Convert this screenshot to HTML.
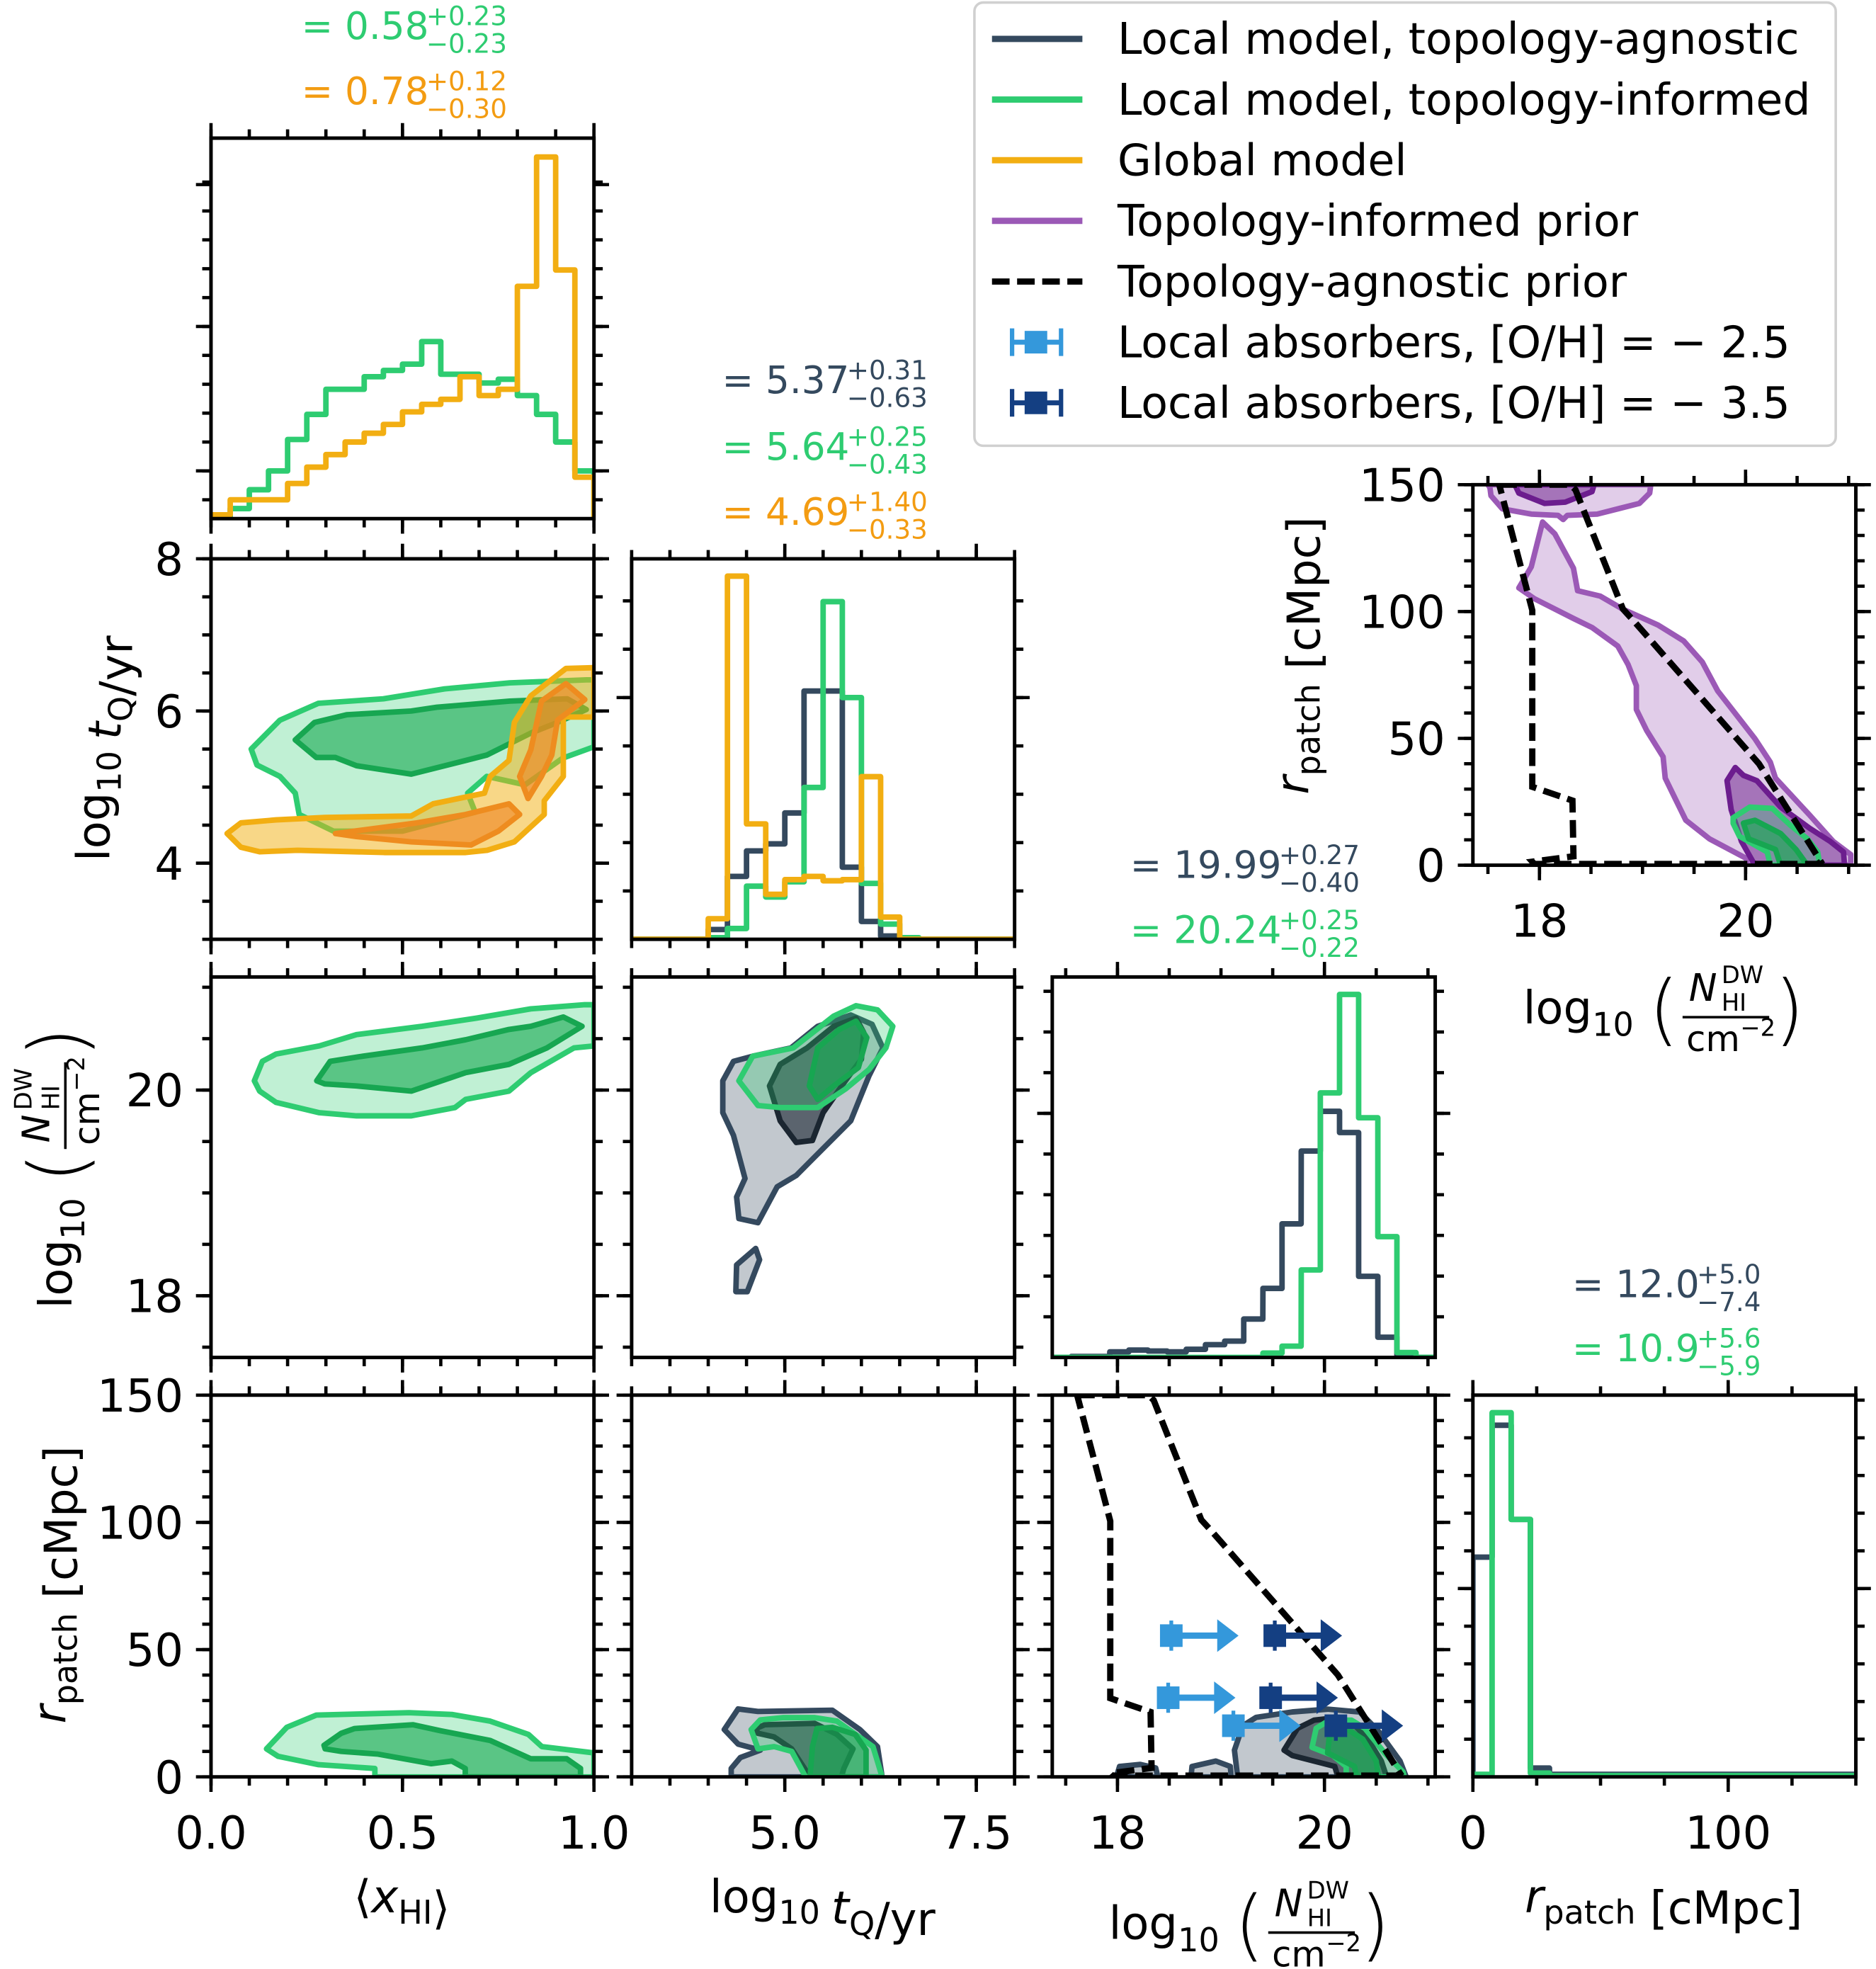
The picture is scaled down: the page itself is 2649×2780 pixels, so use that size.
<!DOCTYPE html>
<html><head><meta charset="utf-8"><style>
html,body{margin:0;padding:0;background:#fff;}
svg{display:block;font-family:"DejaVu Sans","Liberation Sans",sans-serif;}
</style></head><body>
<svg id="fig" width="2649" height="2780" viewBox="0 0 1494 1568" xmlns="http://www.w3.org/2000/svg"></svg>
<script>
// ---------- data ----------
const xhiGreen = [0,8,23,38,63,83,103,103,113,118,123,141,115,115,108,111,98,83,61,38];
const xhiOrange = [3,15,15,15,28,41,51,61,68,75,85,91,95,113,98,103,185,288,198,33];
const tqDark = [0,0,0,0,18,116,163,176,233,458,458,133,33,6,0,0,0,0,0,0];
const tqGreen = [0,0,0,0,3,20,98,78,106,280,623,446,103,28,3,0,0,0,0,0];
const tqOrange = [0,0,0,0,38,670,213,83,110,116,108,110,300,41,0,0,0,0,0,0];
const nDark = [0,4,4,22,29,25,22,32,50,64,150,270,522,807,962,879,317,79,2,0];
const nGreen = [0,0,0,0,0,0,0,0,0,0,0,17,44,342,1034,1419,937,472,19,0];
const rDark = [175,280,205,7,2,2,2,2,2,2,2,2,2,2,2,2,2,2,2,2];
const rGreen = [2,290,205,3,1,1,1,1,1,1,1,1,1,1,1,1,1,1,1,1];

// contours [x,y] in data units
const c10GreenOuter = [[0.105,5.5],[0.18,5.88],[0.28,6.10],[0.45,6.16],[0.61,6.29],[0.78,6.37],[0.98,6.41],[1.0,6.41],[1.0,5.53],[0.918,5.38],[0.82,5.03],[0.72,5.14],[0.67,4.92],[0.69,4.67],[0.5,4.42],[0.32,4.42],[0.23,4.64],[0.22,4.92],[0.18,5.14],[0.12,5.29]];
const c10GreenInner = [[0.22,5.62],[0.27,5.85],[0.354,5.95],[0.523,6.0],[0.59,6.05],[0.78,6.13],[0.93,6.16],[0.98,6.02],[0.905,5.85],[0.835,5.71],[0.72,5.42],[0.665,5.35],[0.523,5.17],[0.38,5.28],[0.325,5.39],[0.275,5.39]];
const c10OrangeOuter = [[0.042,4.39],[0.078,4.53],[0.17,4.57],[0.297,4.60],[0.523,4.62],[0.58,4.78],[0.714,4.92],[0.729,5.14],[0.778,5.35],[0.792,5.85],[0.835,6.20],[0.927,6.56],[1.0,6.57],[1.0,5.92],[0.92,5.92],[0.92,5.14],[0.87,4.82],[0.87,4.64],[0.792,4.28],[0.721,4.17],[0.665,4.14],[0.452,4.14],[0.226,4.17],[0.127,4.15],[0.078,4.21]];
const c10OrangeInnerA = [[0.325,4.39],[0.537,4.53],[0.665,4.64],[0.778,4.78],[0.806,4.64],[0.75,4.42],[0.679,4.24],[0.523,4.28],[0.38,4.35]];
const c10OrangeInnerB = [[0.806,5.14],[0.835,5.49],[0.863,6.13],[0.927,6.36],[0.976,6.15],[0.905,5.88],[0.89,5.42],[0.863,5.14],[0.828,4.85]];
const c20GreenOuter = [[0.113,20.09],[0.134,20.28],[0.17,20.35],[0.283,20.43],[0.38,20.54],[0.551,20.62],[0.693,20.70],[0.835,20.79],[0.976,20.83],[1.0,20.83],[1.0,20.43],[0.948,20.41],[0.835,20.17],[0.778,19.99],[0.665,19.91],[0.637,19.83],[0.523,19.75],[0.38,19.75],[0.283,19.78],[0.17,19.88],[0.127,19.99]];
const c20GreenInner = [[0.276,20.09],[0.311,20.28],[0.396,20.33],[0.551,20.41],[0.665,20.49],[0.778,20.59],[0.835,20.62],[0.92,20.71],[0.969,20.62],[0.877,20.41],[0.778,20.25],[0.665,20.17],[0.523,19.99],[0.38,20.04],[0.297,20.06]];
const c21DarkOuter = [[4.19,20.09],[4.33,20.28],[4.58,20.33],[5.08,20.41],[5.43,20.62],[5.86,20.73],[6.14,20.64],[6.28,20.41],[6.10,20.14],[5.86,19.70],[5.47,19.41],[5.15,19.17],[4.90,19.06],[4.65,18.71],[4.40,18.75],[4.37,18.96],[4.48,19.14],[4.33,19.56],[4.19,19.78]];
const c21DarkIsland = [[4.37,18.30],[4.62,18.46],[4.67,18.35],[4.51,18.04],[4.36,18.04]];
const c21DarkInner = [[4.80,20.04],[4.94,20.25],[5.29,20.41],[5.64,20.62],[5.93,20.70],[6.03,20.56],[6.0,20.30],[5.79,20.09],[5.50,19.78],[5.36,19.51],[5.15,19.49],[4.94,19.70]];
const c21GreenOuter = [[4.40,20.09],[4.58,20.33],[5.11,20.41],[5.64,20.72],[5.93,20.82],[6.21,20.78],[6.41,20.62],[6.32,20.41],[6.10,20.20],[5.79,20.01],[5.43,19.83],[4.94,19.83],[4.65,19.85]];
const c21GreenInner = [[5.32,20.04],[5.43,20.41],[5.71,20.59],[5.93,20.67],[6.07,20.51],[5.96,20.22],[5.64,20.04],[5.43,19.91]];
const c30GreenOuter = [[0.428,0],[0.428,3.3],[0.281,4.8],[0.175,8.1],[0.145,11],[0.198,19.5],[0.275,24.3],[0.517,25.2],[0.629,24.5],[0.729,21.9],[0.829,16.7],[0.864,11.9],[0.994,9.5],[1.0,9],[1.0,0]];
const c30GreenInner = [[0.664,0],[0.664,3.3],[0.629,6.2],[0.575,5.2],[0.434,9.0],[0.34,10],[0.298,11],[0.295,12.4],[0.34,17.1],[0.375,19],[0.528,20.5],[0.6,18.1],[0.729,14.3],[0.835,7.1],[0.929,7.1],[0.965,3.3],[0.965,0]];
const c31DarkOuter = [[4.30,0],[4.30,3.3],[4.42,7.6],[4.68,10.5],[4.39,12.9],[4.21,18.6],[4.39,26.7],[4.65,25.7],[5.62,26.2],[5.98,18.6],[6.21,11.9],[6.27,0]];
const c31DarkInner = [[4.62,19],[4.74,20.5],[5.39,21],[5.68,16.7],[5.89,11],[5.77,3.3],[5.74,0],[5.33,0],[5.09,11],[4.86,15.7],[4.65,17.1]];
const c31GreenOuter = [[4.65,11],[4.56,18.6],[4.68,22.4],[4.98,23.3],[5.39,23.3],[5.68,21.9],[6.15,11.9],[6.27,0],[5.27,0],[5.09,10],[4.86,11.9]];
const c31GreenInner = [[5.33,0],[5.36,11.9],[5.42,19],[5.62,19.5],[5.92,16.7],[6.06,10.5],[6.06,0]];
const c32DarkOuter = [[19.16,0],[19.13,10.5],[19.21,20.1],[19.34,23.4],[19.69,25.5],[20.03,26.6],[20.34,25.5],[20.52,18],[20.73,6.2],[20.79,0]];
const c32DarkBlobA = [[18.71,0],[18.72,4.1],[18.95,6.2],[19.09,4.1],[19.10,0]];
const c32DarkBlobB = [[17.99,0],[18.02,4.1],[18.22,4.9],[18.37,3.5],[18.39,0]];
const c32DarkInner = [[19.61,10.5],[19.74,19.1],[19.9,22.3],[20.1,23.2],[20.3,20],[20.42,14.8],[20.55,6.2],[20.6,0],[20.13,0],[20.1,4.1],[19.69,8.4]];
const c32GreenOuter = [[19.88,11.6],[19.92,19.1],[20.05,22.3],[20.26,22.3],[20.39,19.1],[20.58,9.4],[20.76,1.9],[20.77,0],[20.21,0],[20.21,4.1],[20.08,8.4]];
const c32GreenInner = [[20.03,9.4],[20.05,16.9],[20.21,19.1],[20.37,14.8],[20.5,6.2],[20.52,0],[20.31,0],[20.29,4.1]];
const priorAgnostic = [[17.61,150],[18.3,150],[18.35,148],[18.81,101],[18.9,97],[20.13,40],[20.73,1.4],[20.7,0.5],[17.95,0.5],[17.93,1.4],[18.33,3.5],[18.32,25.5],[17.93,30.9],[17.93,100.5],[17.61,150]];
const insPurpleOuterTop = [[17.50,150],[17.52,148.8],[17.53,145.7],[17.64,140.5],[17.92,138.4],[18.18,137.9],[18.23,136.3],[18.27,137.9],[18.56,138.4],[18.97,142.6],[19.07,146.7],[19.08,150]];
const insPurpleOuter = [[17.80,109.3],[17.92,117.6],[18.03,135.3],[18.15,130.6],[18.33,117.1],[18.37,108.2],[18.59,106.1],[18.81,100.9],[19.15,94.7],[19.40,88.4],[19.58,80.1],[19.73,68.7],[19.83,63.5],[20.09,49.9],[20.24,40.6],[20.29,34.3],[20.62,19.8],[20.85,9.4],[21.02,4.2],[21.02,0],[20.01,0],[20.01,2.6],[19.65,10.4],[19.42,17.7],[19.32,26],[19.22,34.3],[19.20,42.7],[19.04,53.1],[18.94,61.4],[18.94,70.8],[18.86,79.1],[18.76,86.4],[18.51,93.7],[18.33,97.3],[17.95,105.1]];
const insPurpleInnerTop = [[17.77,150],[17.77,149.3],[17.80,146.7],[18.05,142.6],[18.25,143.1],[18.51,147.3],[18.53,150]];
const insPurpleInner = [[19.82,33.3],[19.90,38.5],[19.98,35.4],[20.11,33.3],[20.34,22.9],[20.62,14.6],[20.82,9.4],[20.95,5.2],[20.96,0],[20.09,0],[19.96,9.4],[19.86,21.9]];
const insGreenOuter = [[19.88,18.7],[20.04,22.9],[20.26,22.4],[20.44,15.6],[20.60,10.4],[20.70,5.2],[20.72,0],[20.24,0],[20.21,5.2],[19.94,11.4],[19.88,16.5]];
const insGreenInner = [[19.98,16.6],[20.09,17.7],[20.34,12.5],[20.49,6.2],[20.6,0],[20.34,0],[20.29,6.2],[20.03,10.4]];
const absLightN = [18.52,18.49,19.12];
const absLightR = [55.5,31.1,20.1];
const absDarkN = [19.52,19.48,20.11];
const absDarkR = [55.5,31.1,20.1];
const absArrowLen = 0.65;

// ---------- helpers ----------
const NS = 'http://www.w3.org/2000/svg';
const svg = document.getElementById('fig');
const LW = 4.4;
function mk(tag, attrs, parent) {
  const e = document.createElementNS(NS, tag);
  for (const k in attrs) e.setAttribute(k, attrs[k]);
  (parent || svg).appendChild(e);
  return e;
}
const C = {dark:'#34495e', darkIn:'#1b2631', green:'#2ecc71', greenIn:'#17a651', orange:'#f2ae12', orangeIn:'#ee8c1f', purple:'#9b59b6', purpleIn:'#6c1d8e', light:'#3498db', navy:'#143f82'};
const F = {
  dark:'rgba(52,73,94,0.3)', darkIn:'rgba(28,39,51,0.62)', green:'rgba(46,204,113,0.3)', greenIn:'rgba(22,169,80,0.6)',
  orange:'rgba(241,176,15,0.5)', orangeIn:'rgba(239,130,30,0.6)', purple:'rgba(155,89,182,0.3)', purpleIn:'rgba(106,27,138,0.5)'
};
const P = {
  h00:{x:168,y:110,w:305,h:303,xd:[0,1],yd:[0,303]},
  p10:{x:168,y:445,w:305,h:303,xd:[0,1],yd:[3,8]},
  h11:{x:503,y:445,w:305,h:303,xd:[3,8],yd:[0,702]},
  p20:{x:168,y:778,w:305,h:303,xd:[0,1],yd:[17.4,21.1]},
  p21:{x:503,y:778,w:305,h:303,xd:[3,8],yd:[17.4,21.1]},
  h22:{x:838,y:778,w:305,h:303,xd:[17.37,21.07],yd:[0,1487]},
  p30:{x:168,y:1111,w:305,h:304,xd:[0,1],yd:[0,150]},
  p31:{x:503,y:1111,w:305,h:304,xd:[3,8],yd:[0,150]},
  p32:{x:838,y:1111,w:305,h:304,xd:[17.37,21.07],yd:[0,150]},
  h33:{x:1173,y:1111,w:305,h:304,xd:[0,150],yd:[0,304]},
  ins:{x:1173,y:386,w:305,h:303,xd:[17.354,21.07],yd:[0,150]}
};
function sx(p,v){return p.x + (v-p.xd[0])/(p.xd[1]-p.xd[0])*p.w;}
function sy(p,v){return p.y + p.h - (v-p.yd[0])/(p.yd[1]-p.yd[0])*p.h;}
function range(a,b,s){const r=[];for(let v=a;v<=b+1e-9;v+=s)r.push(+v.toFixed(6));return r;}

const defs = mk('defs',{});
for (const k in P) {
  const p = P[k];
  const cp = mk('clipPath',{id:'clip-'+k},defs);
  mk('rect',{x:p.x,y:p.y,width:p.w,height:p.h},cp);
}

function panelGroup(k, name){
  const g = mk('g',{});
  
  
  const inner = mk('g',{'clip-path':'url(#clip-'+k+')'},g);
  
  
  return [g, inner];
}
function poly(p, g, pts, stroke, fill, name){
  const d = pts.map((q,i)=>(i?'L':'M')+sx(p,q[0]).toFixed(1)+','+sy(p,q[1]).toFixed(1)).join('')+'Z';
  const e = mk('path',{d:d,fill:fill,stroke:stroke,'stroke-width':LW,'stroke-linejoin':'round'},g);
  
  
}
function hist(p, g, vals, color, name){
  const n = vals.length, bw = (p.xd[1]-p.xd[0])/n;
  let d = 'M'+sx(p,p.xd[0])+','+sy(p,0);
  vals.forEach((v,i)=>{const a=p.xd[0]+i*bw, b=a+bw; d+='L'+sx(p,a).toFixed(1)+','+sy(p,v).toFixed(1)+'L'+sx(p,b).toFixed(1)+','+sy(p,v).toFixed(1);});
  d += 'L'+sx(p,p.xd[1])+','+sy(p,0);
  const e = mk('path',{d:d,fill:'none',stroke:color,'stroke-width':LW,'stroke-linejoin':'round'},g);
  
  
}
function frame(p, g, xmaj, xmin, ymaj, ymin, xlab, ylab){
  const r = mk('rect',{x:p.x,y:p.y,width:p.w,height:p.h,fill:'none',stroke:'#000','stroke-width':2.8},g);
  
  
  const tk = mk('g',{stroke:'#000','stroke-width':2.6},g);
  
  
  const L = 12, l = 7;
  [[xmaj,L],[xmin,l]].forEach(([arr,len])=>arr.forEach(v=>{
    const X = sx(p,v); if (X < p.x-0.5 || X > p.x+p.w+0.5) return;
    const t1 = mk('line',{x1:X,x2:X,y1:p.y+p.h,y2:p.y+p.h+len},tk);
    
    const t2 = mk('line',{x1:X,x2:X,y1:p.y,y2:p.y-len},tk);
    
  }));
  [[ymaj,L],[ymin,l]].forEach(([arr,len])=>arr.forEach(v=>{
    const Y = sy(p,v); if (Y < p.y-0.5 || Y > p.y+p.h+0.5) return;
    const t1 = mk('line',{y1:Y,y2:Y,x1:p.x,x2:p.x-len},tk);
    
    const t2 = mk('line',{y1:Y,y2:Y,x1:p.x+p.w,x2:p.x+p.w+len},tk);
    
  }));
  if (xlab) xlab.forEach(([v,s])=>{
    const t = mk('text',{x:sx(p,v),y:p.y+p.h+57,'font-size':36,'text-anchor':'middle'},g);
    t.textContent = s;
    
    
  });
  if (ylab) ylab.forEach(([v,s])=>{
    const t = mk('text',{x:p.x-22,y:sy(p,v)+13,'font-size':36,'text-anchor':'end'},g);
    t.textContent = s;
    
    
  });
}
function dashed(p, g, pts, name){
  const d = pts.map((q,i)=>(i?'L':'M')+sx(p,q[0]).toFixed(1)+','+sy(p,q[1]).toFixed(1)).join('');
  const e = mk('path',{d:d,fill:'none',stroke:'#000','stroke-width':5,'stroke-dasharray':'14 6'},g);
  
  
}
function absorber(p, g, N, R, color, name){
  const x = sx(p,N), y = sy(p,R), x2 = sx(p,N+absArrowLen);
  const grp = mk('g',{fill:color,stroke:color},g);
  
  
  mk('line',{x1:x,x2:x2-14,y1:y,y2:y,'stroke-width':5},grp);
  mk('line',{x1:x,x2:x,y1:y-12,y2:y+12,'stroke-width':3},grp);
  mk('rect',{x:x-9,y:y-9,width:18,height:18,stroke:'none'},grp);
  mk('path',{d:'M'+(x2-17)+','+(y-13)+'L'+x2+','+y+'L'+(x2-17)+','+(y+13)+'Z',stroke:'none'},grp);
}
function txt(x,y,s,size,color,anchor,name,extra){
  const t = mk('text',Object.assign({x:x,y:y,'font-size':size,fill:color||'#000','text-anchor':anchor||'start'},extra||{}));
  t.innerHTML = s;
  
  
  return t;
}
function stat(x,y,val,sup,sub,color,name){
  txt(x,y,'= '+val,30,color,'start',name);
  const w = (val.length)*19.1 + 23;
  txt(x+w,y-11,sup,21,color,'start',name+'-upper');
  txt(x+w,y+11,sub,21,color,'start',name+'-lower');
}

// ---------- build panels ----------
const ticksX = {
  xhi:[[0,0.5,1],range(0,1,0.1)], tq:[[2.5,5,7.5],range(3,8,0.5)], n:[[18,20],range(17.5,21,0.5)], r:[[0,100],range(0,150,25)]
};
const ticksY = {
  tq:[[4,6,8],range(3,8,0.5)], n:[[18,20],range(17.5,21,0.5)], r:[[0,50,100,150],range(0,150,10)]
};
let g, a;
[g,a] = panelGroup('h00','histogram-xhi');
hist(P.h00,a,xhiGreen,C.green,'hist-xhi-topology-informed');
hist(P.h00,a,xhiOrange,C.orange,'hist-xhi-global');
frame(P.h00,g,ticksX.xhi[0],ticksX.xhi[1],[38,153,266],range(15,290,23));
[g,a] = panelGroup('p10','contour-xhi-tq');
poly(P.p10,a,c10GreenOuter,C.green,F.green,'contour-green-95');
poly(P.p10,a,c10GreenInner,C.greenIn,F.greenIn,'contour-green-68');
poly(P.p10,a,c10OrangeOuter,C.orange,F.orange,'contour-orange-95');
poly(P.p10,a,c10OrangeInnerA,C.orangeIn,F.orangeIn,'contour-orange-68-a');
poly(P.p10,a,c10OrangeInnerB,C.orangeIn,F.orangeIn,'contour-orange-68-b');
frame(P.p10,g,ticksX.xhi[0],ticksX.xhi[1],ticksY.tq[0],ticksY.tq[1],null,[[4,'4'],[6,'6'],[8,'8']]);
[g,a] = panelGroup('h11','histogram-tq');
hist(P.h11,a,tqDark,C.dark,'hist-tq-topology-agnostic');
hist(P.h11,a,tqGreen,C.green,'hist-tq-topology-informed');
hist(P.h11,a,tqOrange,C.orange,'hist-tq-global');
frame(P.h11,g,ticksX.tq[0],ticksX.tq[1],[446],range(89.2,700,89.2));
[g,a] = panelGroup('p20','contour-xhi-nhi');
poly(P.p20,a,c20GreenOuter,C.green,F.green,'contour-green-95');
poly(P.p20,a,c20GreenInner,C.greenIn,F.greenIn,'contour-green-68');
frame(P.p20,g,ticksX.xhi[0],ticksX.xhi[1],ticksY.n[0],ticksY.n[1],null,[[18,'18'],[20,'20']]);
[g,a] = panelGroup('p21','contour-tq-nhi');
poly(P.p21,a,c21DarkOuter,C.dark,F.dark,'contour-dark-95');
poly(P.p21,a,c21DarkIsland,C.dark,F.dark,'contour-dark-95-island');
poly(P.p21,a,c21DarkInner,C.darkIn,F.darkIn,'contour-dark-68');
poly(P.p21,a,c21GreenOuter,C.green,F.green,'contour-green-95');
poly(P.p21,a,c21GreenInner,C.greenIn,F.greenIn,'contour-green-68');
frame(P.p21,g,ticksX.tq[0],ticksX.tq[1],ticksY.n[0],ticksY.n[1]);
[g,a] = panelGroup('h22','histogram-nhi');
hist(P.h22,a,nDark,C.dark,'hist-nhi-topology-agnostic');
hist(P.h22,a,nGreen,C.green,'hist-nhi-topology-informed');
frame(P.h22,g,ticksX.n[0],ticksX.n[1],[954],range(159,1480,159));
[g,a] = panelGroup('p30','contour-xhi-rpatch');
poly(P.p30,a,c30GreenOuter,C.green,F.green,'contour-green-95');
poly(P.p30,a,c30GreenInner,C.greenIn,F.greenIn,'contour-green-68');
frame(P.p30,g,ticksX.xhi[0],ticksX.xhi[1],ticksY.r[0],ticksY.r[1],[[0,'0.0'],[0.5,'0.5'],[1,'1.0']],[[0,'0'],[50,'50'],[100,'100'],[150,'150']]);
[g,a] = panelGroup('p31','contour-tq-rpatch');
poly(P.p31,a,c31DarkOuter,C.dark,F.dark,'contour-dark-95');
poly(P.p31,a,c31DarkInner,C.darkIn,F.darkIn,'contour-dark-68');
poly(P.p31,a,c31GreenOuter,C.green,F.green,'contour-green-95');
poly(P.p31,a,c31GreenInner,C.greenIn,F.greenIn,'contour-green-68');
frame(P.p31,g,ticksX.tq[0],ticksX.tq[1],ticksY.r[0],ticksY.r[1],[[5,'5.0'],[7.5,'7.5']]);
[g,a] = panelGroup('p32','contour-nhi-rpatch');
poly(P.p32,a,c32DarkOuter,C.dark,F.dark,'contour-dark-95');
poly(P.p32,a,c32DarkBlobA,C.dark,F.dark,'contour-dark-95-blob-a');
poly(P.p32,a,c32DarkBlobB,C.dark,F.dark,'contour-dark-95-blob-b');
poly(P.p32,a,c32DarkInner,C.darkIn,F.darkIn,'contour-dark-68');
poly(P.p32,a,c32GreenOuter,C.green,F.green,'contour-green-95');
poly(P.p32,a,c32GreenInner,C.greenIn,F.greenIn,'contour-green-68');
dashed(P.p32,a,priorAgnostic,'topology-agnostic-prior');
absLightN.forEach((n,i)=>absorber(P.p32,a,n,absLightR[i],C.light,'absorber-oh-2.5'));
absDarkN.forEach((n,i)=>absorber(P.p32,a,n,absDarkR[i],C.navy,'absorber-oh-3.5'));
frame(P.p32,g,ticksX.n[0],ticksX.n[1],ticksY.r[0],ticksY.r[1],[[18,'18'],[20,'20']]);
[g,a] = panelGroup('h33','histogram-rpatch');
hist(P.h33,a,rDark,C.dark,'hist-rpatch-topology-agnostic');
hist(P.h33,a,rGreen,C.green,'hist-rpatch-topology-informed');
frame(P.h33,g,ticksX.r[0],ticksX.r[1],[150],range(30,300,30),[[0,'0'],[100,'100']]);
[g,a] = panelGroup('ins','prior-inset');
poly(P.ins,a,insPurpleOuterTop,C.purple,F.purple,'prior-purple-95-top');
poly(P.ins,a,insPurpleOuter,C.purple,F.purple,'prior-purple-95');
poly(P.ins,a,insPurpleInnerTop,C.purpleIn,F.purpleIn,'prior-purple-68-top');
poly(P.ins,a,insPurpleInner,C.purpleIn,F.purpleIn,'prior-purple-68');
poly(P.ins,a,insGreenOuter,C.green,F.green,'contour-green-95');
poly(P.ins,a,insGreenInner,C.greenIn,F.greenIn,'contour-green-68');
dashed(P.ins,a,priorAgnostic,'topology-agnostic-prior');
frame(P.ins,g,ticksX.n[0],ticksX.n[1],ticksY.r[0],ticksY.r[1],[[18,'18'],[20,'20']],[[0,'0'],[50,'50'],[100,'100'],[150,'150']]);

// ---------- stats titles ----------
stat(240,31,'0.58','+0.23','−0.23',C.green,'stat-xhi-informed');
stat(240,83,'0.78','+0.12','−0.30','#f39c12','stat-xhi-global');
stat(575,313,'5.37','+0.31','−0.63',C.dark,'stat-tq-agnostic');
stat(575,366,'5.64','+0.25','−0.43',C.green,'stat-tq-informed');
stat(575,418,'4.69','+1.40','−0.33','#f39c12','stat-tq-global');
stat(900,699,'19.99','+0.27','−0.40',C.dark,'stat-nhi-agnostic');
stat(900,751,'20.24','+0.25','−0.22',C.green,'stat-nhi-informed');
stat(1252,1033,'12.0','+5.0','−7.4',C.dark,'stat-rpatch-agnostic');
stat(1252,1084,'10.9','+5.6','−5.9',C.green,'stat-rpatch-informed');

// ---------- axis labels ----------
const sub = (s)=>'<tspan dy="9" font-size="26">'+s+'</tspan><tspan dy="-9"></tspan>';
txt(320,1523,'⟨<tspan font-style="italic">x</tspan>'+sub('HI')+'⟩',36,'#000','middle','x-axis-title-xhi');
txt(655,1523,'log'+sub('10')+'<tspan dx="9" font-style="italic">t</tspan>'+sub('Q')+'/yr',36,'#000','middle','x-axis-title-tq');
txt(1325,1523,'<tspan font-style="italic">r</tspan>'+sub('patch')+' [cMpc]',36,'#000','middle','x-axis-title-rpatch');
txt(0,0,'log'+sub('10')+'<tspan dx="9" font-style="italic">t</tspan>'+sub('Q')+'/yr',36,'#000','middle','y-axis-title-tq',{transform:'translate(87,596) rotate(-90)'});
txt(0,0,'<tspan font-style="italic">r</tspan>'+sub('patch')+' [cMpc]',36,'#000','middle','y-axis-title-rpatch',{transform:'translate(52,1262) rotate(-90)'});
txt(0,0,'<tspan font-style="italic">r</tspan>'+sub('patch')+' [cMpc]',36,'#000','middle','inset-y-axis-title',{transform:'translate(1042,522) rotate(-90)'});
function nlabel(cx,cy,rot,name){
  const gg = mk('g',{transform:'translate('+cx+','+cy+')'+(rot?' rotate(-90)':'')});
  
  
  const parts = [
    [-112,12,'log',36,'',''],[-57,22,'10',26,'',''],[-12,22,'(',62,'','200'],[20,-6,'N',30,'italic',''],[46,2,'HI',19,'',''],[46,-20,'DW',19,'',''],
    [18,34,'cm',28,'',''],[61,22,'−2',19,'',''],[88,22,')',62,'','200']
  ];
  parts.forEach(q=>{
    const t = mk('text',{x:q[0],y:q[1],'font-size':q[3],'font-style':q[4]||'normal','font-weight':q[5]||'normal'},gg);
    t.textContent = q[2];
    
  });
  const bar = mk('line',{x1:15,x2:84,y1:7,y2:7,stroke:'#000','stroke-width':2},gg);
  
}
nlabel(995,1532,false,'x-axis-title-nhi');
nlabel(1325,803,false,'inset-x-axis-title');
nlabel(45,930,true,'y-axis-title-nhi');

// ---------- legend ----------
const lg = mk('g',{});


const lbox = mk('rect',{x:776,y:2,width:686,height:353,rx:7,fill:'rgba(255,255,255,0.85)',stroke:'#d0d0d0','stroke-width':2},lg);


const legLabels = ['Local model, topology-agnostic','Local model, topology-informed','Global model','Topology-informed prior','Topology-agnostic prior','Local absorbers, [O/H] = − 2.5','Local absorbers, [O/H] = − 3.5'];
const legColors = [C.dark,C.green,C.orange,C.purple,'#000',C.light,C.navy];
legLabels.forEach((s,i)=>{
  const y = 31 + i*48.3;
  const e = mk('g',{},lg);
  
  
  if (i < 5) {
    mk('line',{x1:790,x2:862,y1:y,y2:y,stroke:legColors[i],'stroke-width':5,'stroke-dasharray':i===4?'14 6':'none'},e);
  } else {
    mk('line',{x1:806,x2:845,y1:y,y2:y,stroke:legColors[i],'stroke-width':4},e);
    mk('line',{x1:806,x2:806,y1:y-11,y2:y+11,stroke:legColors[i],'stroke-width':3.5},e);
    mk('line',{x1:845,x2:845,y1:y-11,y2:y+11,stroke:legColors[i],'stroke-width':3.5},e);
    mk('rect',{x:816,y:y-9,width:18,height:18,fill:legColors[i]},e);
  }
  const t = mk('text',{x:890,y:y+12,'font-size':34.8},e);
  t.textContent = s;
});
</script>
</body></html>
